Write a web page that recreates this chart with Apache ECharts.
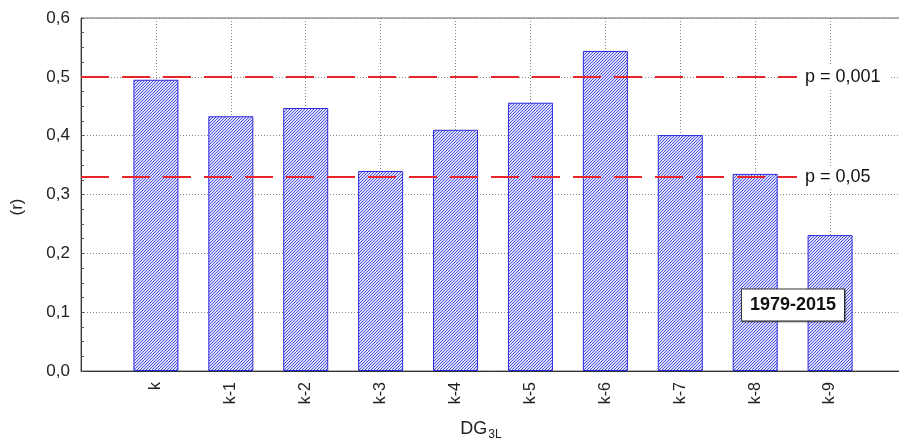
<!DOCTYPE html>
<html>
<head>
<meta charset="utf-8">
<script src="https://cdn.jsdelivr.net/npm/echarts@6/dist/echarts.min.js"></script>
<style>html,body{margin:0;padding:0;background:#fff}#c{width:899px;height:442px}</style>
</head>
<body>
<div id="c"></div>
<script>
var categories = ['k', 'k-1', 'k-2', 'k-3', 'k-4', 'k-5', 'k-6', 'k-7', 'k-8', 'k-9'];
var values = [0.495, 0.433, 0.447, 0.340, 0.410, 0.456, 0.544, 0.401, 0.335, 0.231];
var thresholds = [0.5, 0.325];
var thresholdLabels = ['p = 0,001', 'p = 0,05'];
var yTicks = [0, 0.1, 0.2, 0.3, 0.4, 0.5, 0.6];
var periodLabel = '1979-2015';

var tile = document.createElement('canvas');
tile.width = 6; tile.height = 6;
var g = tile.getContext('2d');
g.fillStyle = '#dcdff9';
g.fillRect(0, 0, 6, 6);
g.strokeStyle = '#5252e0';
g.lineWidth = 1;
for (var c = 0; c <= 12; c += 3) {
  g.beginPath();
  g.moveTo(-1, c + 1);
  g.lineTo(c + 1, -1);
  g.stroke();
}

var chart = echarts.init(document.getElementById('c'), null, {renderer: 'canvas'});
var barData = values.map(function (v, i) { return [i + 1, v]; });
var font = 'Liberation Sans, Arial, sans-serif';

chart.setOption({
  animation: false,
  grid: {left: 81, top: 18, height: 353, width: 824, outerBoundsMode: 'none', show: true, borderColor: '#666', borderWidth: 1, containLabel: false},
  xAxis: {
    type: 'value', min: 0, max: categories.length + 1, interval: 1,
    axisLine: {show: true, lineStyle: {color: '#333', width: 1}},
    axisTick: {show: false},
    splitLine: {show: true, lineStyle: {color: '#888', type: [1, 2], width: 1}},
    axisLabel: {
      rotate: 90, margin: 11, fontSize: 16, color: '#222', fontFamily: font,
      formatter: function (v) { var i = Math.round(v) - 1; return (i >= 0 && i < categories.length) ? categories[i] : ''; }
    }
  },
  yAxis: {
    type: 'value', min: yTicks[0], max: yTicks[yTicks.length - 1], interval: 0.1,
    axisLine: {show: true, lineStyle: {color: '#333', width: 1}},
    axisTick: {show: true, inside: true, length: 3, lineStyle: {color: '#555'}},
    minorTick: {show: true, splitNumber: 4, length: 3, lineStyle: {color: '#555'}},
    splitLine: {show: true, lineStyle: {color: '#888', type: [1, 2], width: 1}},
    axisLabel: {
      fontSize: 17, color: '#222', margin: 11, fontFamily: font,
      formatter: function (v) { return v.toFixed(1).replace('.', ','); }
    }
  },
  series: [{
    type: 'bar',
    data: barData,
    barWidth: 45,
    itemStyle: {color: {image: tile, repeat: 'repeat'}, borderColor: '#2a2ae0', borderWidth: 1},
    markLine: {
      silent: true, symbol: 'none',
      lineStyle: {color: '#e8262a', width: 2, type: [28, 13]},
      label: {
        show: true, position: 'insideEnd', distance: 14,
        backgroundColor: '#fff', padding: [2, 8],
        formatter: function (p) { return '{t|' + thresholdLabels[p.dataIndex] + '}'; },
        rich: {t: {width: 78, align: 'left', fontSize: 18, color: '#111', fontFamily: font}}
      },
      data: thresholds.map(function (t) { return {yAxis: t}; })
    }
  }],
  graphic: [
    {type: 'text', x: 17, y: 207, rotation: Math.PI / 2, z: 100,
     style: {text: '(r)', fontSize: 17, fontFamily: font, fill: '#222', textAlign: 'center', textVerticalAlign: 'middle'}},
    {type: 'text', x: 481, y: 429, z: 100,
     style: {text: '{a|DG}{b|3L}', textAlign: 'center', textVerticalAlign: 'middle',
       rich: {a: {fontSize: 18, fontFamily: font, fill: '#222'}, b: {fontSize: 12, fontFamily: font, fill: '#222', padding: [12, 0, 0, 1]}}}},
    {type: 'text', x: 793, y: 305, z: 100,
     style: {text: periodLabel, fontSize: 18, fontWeight: 'bold', fontFamily: font, fill: '#111',
       textAlign: 'center', textVerticalAlign: 'middle',
       backgroundColor: '#fff', borderColor: '#333', borderWidth: 1, padding: [7, 8, 6, 8],
       shadowColor: 'rgba(0,0,0,0.35)', shadowOffsetX: 1, shadowOffsetY: 1, shadowBlur: 1}}
  ]
});
</script>
</body>
</html>
